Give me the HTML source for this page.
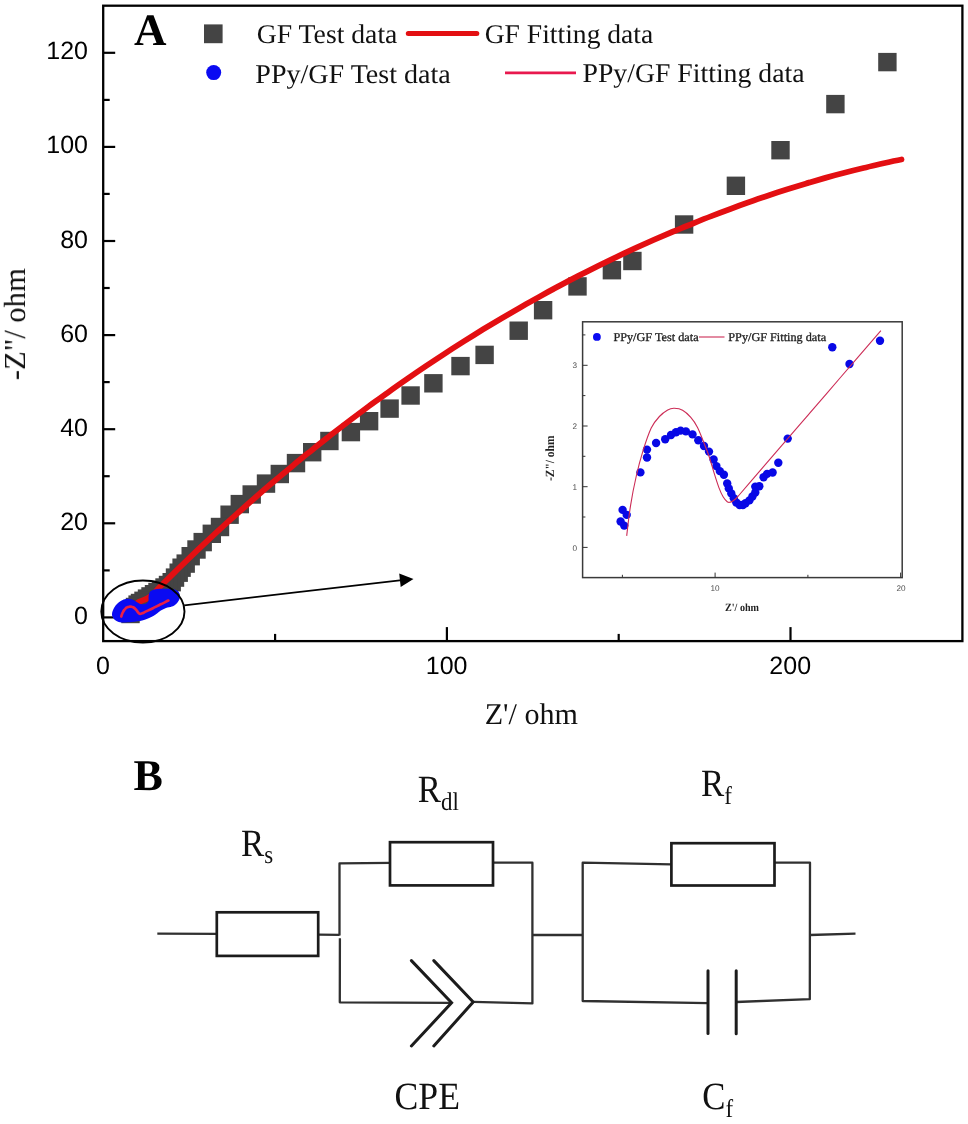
<!DOCTYPE html>
<html><head><meta charset="utf-8"><title>Nyquist plot</title>
<style>
html,body{margin:0;padding:0;background:#fff;}
body{width:968px;height:1124px;overflow:hidden;font-family:"Liberation Sans",sans-serif;}
svg{display:block;text-rendering:geometricPrecision;}
</style></head><body>
<svg width="968" height="1124" viewBox="0 0 968 1124">
<rect width="968" height="1124" fill="#fff"/>
<g opacity="0.998">
<g stroke="#000" stroke-width="2.2">
<line x1="103.2" y1="617.4" x2="115.2" y2="617.4"/>
<line x1="103.2" y1="570.4" x2="109.7" y2="570.4"/>
<line x1="103.2" y1="523.3" x2="115.2" y2="523.3"/>
<line x1="103.2" y1="476.2" x2="109.7" y2="476.2"/>
<line x1="103.2" y1="429.2" x2="115.2" y2="429.2"/>
<line x1="103.2" y1="382.1" x2="109.7" y2="382.1"/>
<line x1="103.2" y1="335.1" x2="115.2" y2="335.1"/>
<line x1="103.2" y1="288.0" x2="109.7" y2="288.0"/>
<line x1="103.2" y1="241.0" x2="115.2" y2="241.0"/>
<line x1="103.2" y1="193.9" x2="109.7" y2="193.9"/>
<line x1="103.2" y1="146.9" x2="115.2" y2="146.9"/>
<line x1="103.2" y1="99.9" x2="109.7" y2="99.9"/>
<line x1="103.2" y1="52.8" x2="115.2" y2="52.8"/>
<line x1="275.1" y1="641.1" x2="275.1" y2="633.9"/>
<line x1="446.9" y1="641.1" x2="446.9" y2="627.1"/>
<line x1="618.7" y1="641.1" x2="618.7" y2="633.9"/>
<line x1="790.5" y1="641.1" x2="790.5" y2="627.1"/>
</g>
<g fill="#444444">
<rect x="878.2" y="52.9" width="18.4" height="18.4"/>
<rect x="826.2" y="94.9" width="18.4" height="18.4"/>
<rect x="771.3" y="141.0" width="18.4" height="18.4"/>
<rect x="726.7" y="176.6" width="18.4" height="18.4"/>
<rect x="674.9" y="215.3" width="18.4" height="18.4"/>
<rect x="623.2" y="251.8" width="18.4" height="18.4"/>
<rect x="602.7" y="261.0" width="18.4" height="18.4"/>
<rect x="568.3" y="277.2" width="18.4" height="18.4"/>
<rect x="533.9" y="301.0" width="18.4" height="18.4"/>
<rect x="509.5" y="321.5" width="18.4" height="18.4"/>
<rect x="475.4" y="345.7" width="18.4" height="18.4"/>
<rect x="451.3" y="356.9" width="18.4" height="18.4"/>
<rect x="424.2" y="374.1" width="18.4" height="18.4"/>
<rect x="401.4" y="386.3" width="18.4" height="18.4"/>
<rect x="380.4" y="399.4" width="18.4" height="18.4"/>
<rect x="359.9" y="412.0" width="18.4" height="18.4"/>
<rect x="341.7" y="422.9" width="18.4" height="18.4"/>
<rect x="320.2" y="431.8" width="18.4" height="18.4"/>
<rect x="303.0" y="443.0" width="18.4" height="18.4"/>
<rect x="286.8" y="453.9" width="18.4" height="18.4"/>
<rect x="270.6" y="464.8" width="18.4" height="18.4"/>
<rect x="256.8" y="474.4" width="18.4" height="18.4"/>
<rect x="242.5" y="485.3" width="18.4" height="18.4"/>
<rect x="230.6" y="494.9" width="18.4" height="18.4"/>
<rect x="220.4" y="505.5" width="18.4" height="18.4"/>
<rect x="210.8" y="517.8" width="18.4" height="18.4"/>
<rect x="202.6" y="524.6" width="18.4" height="18.4"/>
<rect x="193.5" y="532.9" width="18.4" height="18.4"/>
<rect x="187.3" y="540.3" width="18.4" height="18.4"/>
<rect x="181.5" y="547.0" width="18.4" height="18.4"/>
<rect x="176.5" y="554.4" width="18.4" height="18.4"/>
<rect x="172.4" y="558.5" width="18.4" height="18.4"/>
<rect x="169.5" y="563.5" width="18.4" height="18.4"/>
<rect x="165.8" y="568.4" width="18.4" height="18.4"/>
<rect x="162.5" y="573.0" width="18.4" height="18.4"/>
<rect x="158.8" y="575.8" width="18.4" height="18.4"/>
<rect x="155.3" y="578.3" width="18.4" height="18.4"/>
<rect x="151.8" y="580.6" width="18.4" height="18.4"/>
<rect x="148.3" y="582.8" width="18.4" height="18.4"/>
<rect x="144.8" y="585.0" width="18.4" height="18.4"/>
<rect x="141.3" y="587.2" width="18.4" height="18.4"/>
<rect x="137.8" y="589.4" width="18.4" height="18.4"/>
<rect x="134.3" y="591.6" width="18.4" height="18.4"/>
<rect x="130.8" y="593.8" width="18.4" height="18.4"/>
<rect x="128.4" y="595.4" width="18.4" height="18.4"/>
<rect x="125.8" y="597.8" width="18.4" height="18.4"/>
<rect x="123.8" y="600.3" width="18.4" height="18.4"/>
<rect x="121.8" y="602.8" width="18.4" height="18.4"/>
<rect x="121.3" y="604.8" width="18.4" height="18.4"/>
</g>
<path d="M138.0 602.3 C139.6 601.6 144.8 599.7 147.5 598.2 C150.2 596.7 151.9 595.2 154.0 593.3 C156.1 591.4 155.8 591.0 160.0 586.8 C164.2 582.6 172.7 574.2 179.0 568.0 C185.4 561.8 191.7 555.7 198.0 549.7 C204.4 543.7 210.7 537.7 217.0 531.9 C223.4 526.0 229.7 520.2 236.1 514.6 C242.4 508.9 248.7 503.2 255.1 497.7 C261.4 492.2 267.7 486.7 274.1 481.3 C280.4 475.9 286.8 470.6 293.1 465.4 C299.4 460.1 305.8 455.0 312.1 449.9 C318.4 444.8 324.8 439.8 331.1 434.8 C337.5 429.9 343.8 425.0 350.1 420.2 C356.5 415.4 362.8 410.7 369.1 406.0 C375.5 401.4 381.8 396.8 388.2 392.3 C394.5 387.7 400.8 383.3 407.2 378.9 C413.5 374.5 419.8 370.2 426.2 365.9 C432.5 361.7 438.9 357.5 445.2 353.3 C451.5 349.2 457.9 345.1 464.2 341.1 C470.5 337.2 476.9 333.2 483.2 329.3 C489.6 325.5 495.9 321.7 502.2 317.9 C508.6 314.2 514.9 310.5 521.2 306.9 C527.6 303.3 533.9 299.7 540.3 296.2 C546.6 292.7 552.9 289.3 559.3 285.9 C565.6 282.5 571.9 279.2 578.3 275.9 C584.6 272.7 591.0 269.5 597.3 266.4 C603.6 263.2 610.0 260.1 616.3 257.1 C622.6 254.1 629.0 251.1 635.3 248.2 C641.7 245.3 648.0 242.5 654.3 239.7 C660.7 236.9 667.0 234.2 673.3 231.5 C679.7 228.9 686.0 226.2 692.4 223.7 C698.7 221.1 705.0 218.5 711.4 216.1 C717.7 213.6 724.0 211.2 730.4 208.9 C736.7 206.5 743.1 204.2 749.4 202.0 C755.7 199.7 762.1 197.6 768.4 195.4 C774.7 193.3 781.1 191.3 787.4 189.2 C793.8 187.2 800.1 185.3 806.4 183.4 C812.8 181.5 819.1 179.7 825.4 177.9 C831.8 176.1 838.1 174.4 844.5 172.8 C850.8 171.1 857.1 169.5 863.5 168.0 C869.8 166.4 876.1 165.0 882.5 163.5 C888.8 162.1 898.3 160.1 901.5 159.5" fill="none" stroke="#e30f12" stroke-width="5.8" stroke-linecap="round" stroke-linejoin="round"/>
<path d="M112.0 614.0 C112.1 612.3 113.0 609.8 114.0 608.0 C115.0 606.2 116.4 604.4 118.0 603.0 C119.6 601.6 121.8 600.1 123.6 599.4 C125.4 598.7 127.3 598.6 129.0 598.7 C130.7 598.8 132.1 599.4 133.5 600.0 C134.9 600.6 136.2 601.8 137.5 602.5 C138.8 603.2 139.7 604.0 141.0 604.2 C142.3 604.4 144.3 604.3 145.5 603.8 C146.7 603.3 147.9 602.4 148.4 601.2 C148.9 600.0 148.4 598.0 148.6 596.5 C148.8 595.0 149.0 593.1 149.8 592.0 C150.6 590.9 151.9 590.2 153.3 589.7 C154.7 589.2 156.4 589.1 158.0 589.0 C159.6 588.9 161.0 588.8 163.0 588.8 C165.0 588.8 167.8 588.6 170.0 588.8 C172.2 589.0 174.5 589.4 176.0 590.0 C177.5 590.6 178.3 591.5 179.0 592.5 C179.7 593.5 180.0 594.7 180.0 596.0 C180.0 597.3 179.6 599.1 178.8 600.5 C178.1 601.9 176.7 603.5 175.5 604.5 C174.3 605.5 173.5 606.0 171.9 606.6 C170.3 607.2 167.8 607.4 166.0 608.0 C164.2 608.6 162.3 609.6 160.8 610.5 C159.3 611.4 158.2 612.6 157.0 613.5 C155.8 614.4 154.8 615.2 153.3 616.0 C151.8 616.8 149.8 617.8 148.0 618.5 C146.2 619.2 144.9 619.9 142.2 620.5 C139.5 621.1 135.4 621.7 132.0 622.0 C128.6 622.3 124.3 622.6 121.7 622.4 C119.1 622.2 117.9 621.7 116.5 621.0 C115.1 620.3 114.0 619.2 113.2 618.0 C112.5 616.8 111.9 615.7 112.0 614.0Z" fill="#0a0af2"/>
<path d="M121.3 616.5 C121.4 616.1 121.7 614.9 122.0 614.2 C122.3 613.4 122.7 612.6 123.1 611.9 C123.4 611.2 123.8 610.6 124.3 609.9 C124.7 609.3 125.3 608.6 125.8 608.2 C126.3 607.7 126.8 607.5 127.3 607.3 C127.9 607.0 128.4 606.8 128.9 606.7 C129.3 606.6 129.6 606.6 130.1 606.6 C130.6 606.6 131.1 606.6 131.6 606.8 C132.1 606.9 132.7 607.1 133.2 607.3 C133.6 607.5 134.0 607.8 134.4 608.1 C134.8 608.4 135.2 608.9 135.6 609.3 C136.0 609.7 136.2 609.9 136.5 610.3 C136.8 610.7 137.2 611.2 137.5 611.6 C137.8 612.0 138.1 612.5 138.4 612.8 C138.6 613.1 138.9 613.3 139.1 613.5 C139.4 613.7 139.7 613.8 139.9 613.9 C140.1 613.9 140.3 613.9 140.5 613.9 C140.8 613.9 141.2 613.7 141.4 613.6 C141.7 613.6 141.8 613.5 142.2 613.3 C142.6 613.1 143.2 612.8 144.1 612.4 C145.1 611.9 146.3 611.3 147.8 610.6 C149.4 609.8 151.2 608.9 153.4 607.9 C155.5 606.8 158.3 605.5 160.8 604.3 C163.3 603.1 167.1 601.2 168.4 600.6" fill="none" stroke="#ea2046" stroke-width="2.7" stroke-linejoin="round" stroke-linecap="round"/>
<ellipse cx="142.9" cy="611.5" rx="41.6" ry="31" fill="none" stroke="#000" stroke-width="1.9"/>
<line x1="184.3" y1="605.3" x2="402" y2="580.2" stroke="#000" stroke-width="1.7"/>
<polygon points="413.5,578.9 399.2,573.6 400.7,587" fill="#000"/>
<rect x="103.2" y="5.7" width="859.2" height="635.4" fill="none" stroke="#000" stroke-width="2.3"/>
<g font-family="Liberation Sans, sans-serif" font-size="25" fill="#000">
<text x="88" y="623.9" text-anchor="end">0</text>
<text x="88" y="529.8" text-anchor="end">20</text>
<text x="88" y="435.7" text-anchor="end">40</text>
<text x="88" y="341.6" text-anchor="end">60</text>
<text x="88" y="247.5" text-anchor="end">80</text>
<text x="88" y="153.4" text-anchor="end">100</text>
<text x="88" y="59.3" text-anchor="end">120</text>
<text x="103.0" y="674.4" text-anchor="middle">0</text>
<text x="446.6" y="674.4" text-anchor="middle">100</text>
<text x="790.2" y="674.4" text-anchor="middle">200</text>
</g>
<text x="531.3" y="723.8" text-anchor="middle" font-family="Liberation Serif, serif" font-size="30.1" fill="#111">Z'/ ohm</text>
<text transform="translate(25,324.2) rotate(-90)" text-anchor="middle" font-family="Liberation Serif, serif" font-size="30.6" fill="#111">-Z&quot;/ ohm</text>
<text x="134" y="45.4" font-family="Liberation Serif, serif" font-weight="bold" font-size="45" fill="#000">A</text>
<rect x="204" y="24.4" width="18.6" height="18.8" fill="#444"/>
<circle cx="213.7" cy="72.6" r="7.5" fill="#0a0af2"/>
<g font-family="Liberation Serif, serif" font-size="27" fill="#111">
<text x="256.8" y="42.8" textLength="140.6" lengthAdjust="spacingAndGlyphs">GF Test data</text>
<text x="255.3" y="82.6" textLength="195.4" lengthAdjust="spacingAndGlyphs">PPy/GF Test data</text>
<text x="484.7" y="43" textLength="168.6" lengthAdjust="spacingAndGlyphs">GF Fitting data</text>
<text x="582.5" y="82.4" textLength="222" lengthAdjust="spacingAndGlyphs">PPy/GF Fitting data</text>
</g>
<line x1="408.3" y1="33.5" x2="476.8" y2="33.5" stroke="#e30f12" stroke-width="5" stroke-linecap="round"/>
<line x1="505" y1="72.9" x2="576" y2="72.9" stroke="#e8184e" stroke-width="2.7"/>
<rect x="582.6" y="321.8" width="319.6" height="255.8" fill="#fff" stroke="#3a3a3a" stroke-width="1.5"/>
<g stroke="#333" stroke-width="1">
<line x1="582.6" y1="547.4" x2="587.6" y2="547.4"/>
<line x1="582.6" y1="517.0" x2="585.4" y2="517.0"/>
<line x1="582.6" y1="486.7" x2="587.6" y2="486.7"/>
<line x1="582.6" y1="456.3" x2="585.4" y2="456.3"/>
<line x1="582.6" y1="426.0" x2="587.6" y2="426.0"/>
<line x1="582.6" y1="395.6" x2="585.4" y2="395.6"/>
<line x1="582.6" y1="365.3" x2="587.6" y2="365.3"/>
<line x1="582.6" y1="334.9" x2="585.4" y2="334.9"/>
<line x1="622.4" y1="577.6" x2="622.4" y2="574.8"/>
<line x1="715.1" y1="577.6" x2="715.1" y2="572.6"/>
<line x1="807.9" y1="577.6" x2="807.9" y2="574.8"/>
<line x1="900.6" y1="577.6" x2="900.6" y2="572.6"/>
</g>
<g font-family="Liberation Sans, sans-serif" font-size="8.2" fill="#505050">
<text x="577" y="550.5" text-anchor="end">0</text>
<text x="577" y="489.8" text-anchor="end">1</text>
<text x="577" y="429.1" text-anchor="end">2</text>
<text x="577" y="368.4" text-anchor="end">3</text>
<text x="715.1" y="590.6" text-anchor="middle">10</text>
<text x="901" y="590.6" text-anchor="middle">20</text>
</g>
<text x="725" y="610.5" textLength="34" lengthAdjust="spacingAndGlyphs" font-family="Liberation Serif, serif" font-size="11" font-weight="bold" fill="#222">Z'/ ohm</text>
<text transform="translate(554.2,481) rotate(-90)" textLength="45.4" lengthAdjust="spacingAndGlyphs" font-family="Liberation Serif, serif" font-size="12.5" font-weight="bold" fill="#222">-Z&quot;/ ohm</text>
<g fill="#0808e6">
<circle cx="622.6" cy="509.9" r="4.2"/>
<circle cx="626.7" cy="514.9" r="4.2"/>
<circle cx="620.6" cy="521.5" r="4.2"/>
<circle cx="624.2" cy="525.6" r="4.2"/>
<circle cx="640.4" cy="472.4" r="4.2"/>
<circle cx="647.0" cy="457.5" r="4.2"/>
<circle cx="647.0" cy="449.6" r="4.2"/>
<circle cx="656.1" cy="443.0" r="4.2"/>
<circle cx="665.2" cy="439.2" r="4.2"/>
<circle cx="671.0" cy="435.0" r="4.2"/>
<circle cx="676.0" cy="432.2" r="4.2"/>
<circle cx="680.6" cy="430.6" r="4.2"/>
<circle cx="685.9" cy="431.4" r="4.2"/>
<circle cx="692.5" cy="434.4" r="4.2"/>
<circle cx="698.3" cy="440.2" r="4.2"/>
<circle cx="704.0" cy="446.0" r="4.2"/>
<circle cx="709.0" cy="451.6" r="4.2"/>
<circle cx="713.6" cy="459.5" r="4.2"/>
<circle cx="716.4" cy="466.1" r="4.2"/>
<circle cx="719.8" cy="471.1" r="4.2"/>
<circle cx="723.9" cy="474.7" r="4.2"/>
<circle cx="727.2" cy="483.5" r="4.2"/>
<circle cx="728.8" cy="488.4" r="4.2"/>
<circle cx="731.3" cy="493.4" r="4.2"/>
<circle cx="733.8" cy="498.3" r="4.2"/>
<circle cx="736.3" cy="502.5" r="4.2"/>
<circle cx="739.6" cy="505.0" r="4.2"/>
<circle cx="742.9" cy="505.0" r="4.2"/>
<circle cx="745.5" cy="503.3" r="4.2"/>
<circle cx="749.4" cy="500.4" r="4.2"/>
<circle cx="752.4" cy="496.5" r="4.2"/>
<circle cx="755.3" cy="492.5" r="4.2"/>
<circle cx="755.3" cy="486.6" r="4.2"/>
<circle cx="759.3" cy="486.3" r="4.2"/>
<circle cx="763.6" cy="477.2" r="4.2"/>
<circle cx="767.1" cy="473.9" r="4.2"/>
<circle cx="772.6" cy="472.5" r="4.2"/>
<circle cx="778.3" cy="462.7" r="4.2"/>
<circle cx="787.7" cy="438.6" r="4.2"/>
<circle cx="832.3" cy="347.3" r="4.2"/>
<circle cx="849.5" cy="364.0" r="4.2"/>
<circle cx="880.0" cy="340.8" r="4.2"/>
</g>
<path d="M626.7 535.9 C627.3 530.9 628.9 515.8 630.5 505.8 C632.1 495.8 634.2 485.1 636.3 476.0 C638.4 466.9 640.4 459.2 642.9 451.2 C645.4 443.2 648.5 433.9 651.2 428.1 C654.0 422.3 656.6 419.5 659.4 416.5 C662.1 413.5 665.2 411.3 667.7 409.9 C670.2 408.5 671.8 408.2 674.3 408.3 C676.8 408.4 679.9 408.7 682.6 410.2 C685.4 411.7 688.3 414.5 690.8 417.4 C693.3 420.2 695.2 423.0 697.4 427.3 C699.6 431.6 702.1 438.2 704.0 443.0 C705.9 447.8 707.3 451.2 709.0 456.2 C710.7 461.1 712.4 467.5 714.0 472.7 C715.6 477.9 717.4 483.6 718.9 487.6 C720.4 491.6 721.7 494.4 723.1 496.7 C724.5 499.0 726.0 500.8 727.2 501.7 C728.4 502.6 729.1 502.6 730.5 502.1 C731.9 501.7 734.0 500.3 735.5 499.0 C737.0 497.7 737.2 497.3 739.6 494.5 C742.0 491.7 744.9 488.3 750.0 482.4 C755.1 476.5 761.7 468.9 770.0 459.2 C778.3 449.5 788.3 437.9 800.0 424.4 C811.7 410.9 826.5 393.6 840.0 378.0 C853.5 362.4 874.1 338.5 880.9 330.6" fill="none" stroke="#cc2c56" stroke-width="1.1" stroke-linejoin="round"/>
<circle cx="596.9" cy="336.9" r="3.9" fill="#0a0af2"/>
<g font-family="Liberation Serif, serif" font-size="12" fill="#222" stroke="#222" stroke-width="0.3">
<text x="613.4" y="340.6" textLength="85.2" lengthAdjust="spacingAndGlyphs">PPy/GF Test data</text>
<text x="728.3" y="340.6" textLength="97.8" lengthAdjust="spacingAndGlyphs">PPy/GF Fitting data</text>
</g>
<line x1="699" y1="337" x2="724.5" y2="337" stroke="#cc2c56" stroke-width="1.1"/>
<text x="133.5" y="790.3" font-family="Liberation Serif, serif" font-weight="bold" font-size="44" fill="#000">B</text>
<g fill="none" stroke="#303030" stroke-width="2.3" stroke-linejoin="round">
<path d="M157.3 933.6 L216.8 933.8"/>
<path d="M318.2 934.6 L339.5 934.8"/>
<path d="M339.5 935.6 L339.5 863.4 L390.5 862.8"/>
<path d="M339.9 938.3 L339.8 1002.3 L450.5 1002.8"/>
<path d="M492.7 862.7 L532.4 862.7 L532.4 1003.4 L473.6 1001.8"/>
<path d="M532.3 935 L582.7 935"/>
<path d="M671.4 864.3 L582.7 862.7 L582.7 1001 L708 1003.2"/>
<path d="M774.5 862.7 L810 862.7 L809.8 999.2 L736.2 1002"/>
<path d="M810 935 L855.5 933.6"/>
</g>
<g fill="#fff" stroke="#1c1c1c" stroke-width="2.7">
<rect x="216.8" y="912.3" width="101.4" height="43.6"/>
<rect x="390" y="842.2" width="103" height="43.2"/>
<rect x="671.4" y="843.2" width="103.1" height="42.3"/>
</g>
<g fill="none" stroke="#1c1c1c" stroke-width="3" stroke-linecap="round">
<path d="M411.4 960.6 L451.6 1002.8 L411.4 1046"/>
<path d="M433.8 960.6 L473.2 1002 L433.8 1046"/>
<path d="M708 970.8 L708 1033.4"/>
<path d="M736.2 970.8 L736.2 1033.8"/>
</g>
<g font-family="Liberation Serif, serif" font-size="38.6" fill="#111">
<text transform="translate(241.1,855.5) scale(0.900,1)">R<tspan font-size="25.5" dy="7.2">s</tspan></text>
<text transform="translate(417.8,802.3) scale(0.900,1)">R<tspan font-size="25.5" dy="7.8">dl</tspan></text>
<text transform="translate(701.1,796.2) scale(0.900,1)">R<tspan font-size="25.5" dy="8.0">f</tspan></text>
<text transform="translate(394.5,1109.4) scale(0.925,1)">CPE</text>
<text transform="translate(702.3,1109.4) scale(0.900,1)">C<tspan font-size="25.5" dy="7.8">f</tspan></text>
</g>
</g>
</svg>
</body></html>
